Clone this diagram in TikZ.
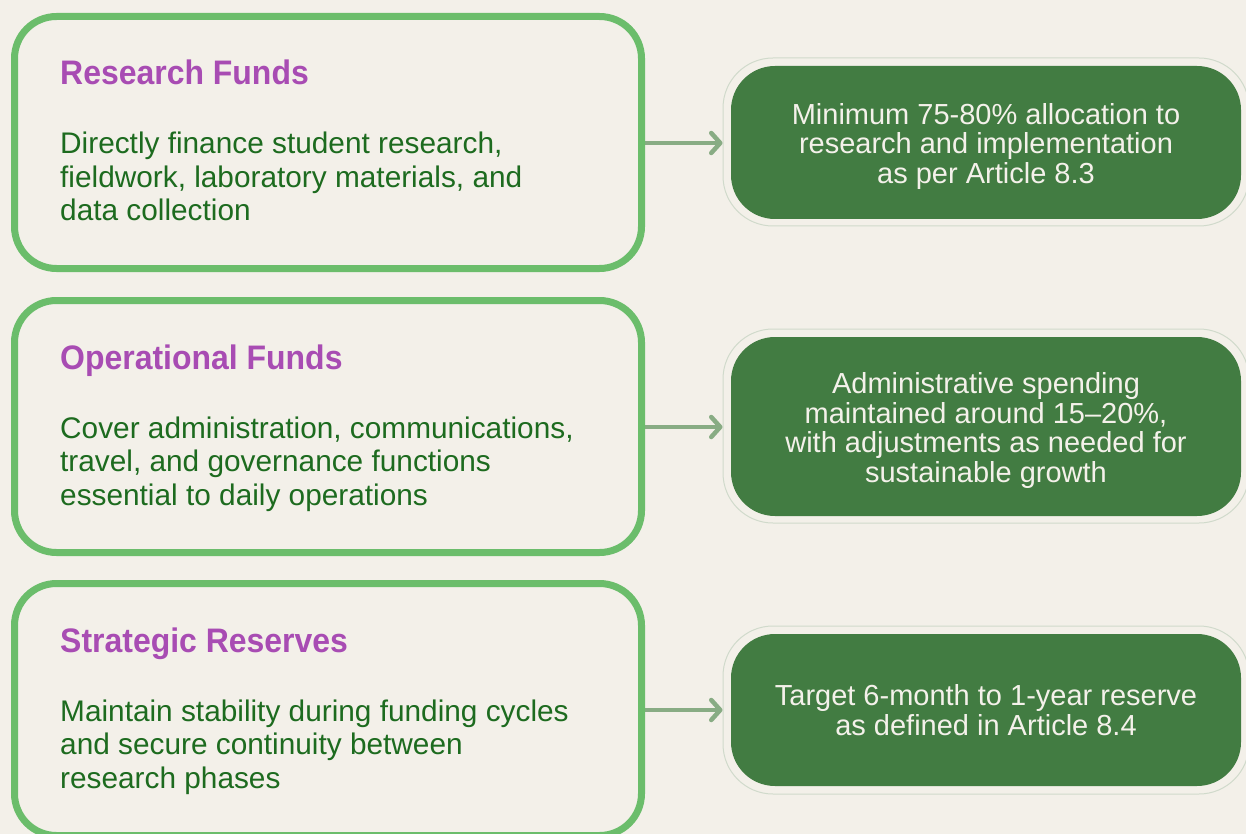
\documentclass[tikz,border=0pt]{standalone}
\usepackage{fontspec}
\setmainfont{Liberation Sans}
\newfontfamily\titlefont[FakeStretch=0.94]{Liberation Sans}
\usetikzlibrary{arrows.meta}
\definecolor{bg}{HTML}{F3F0E9}
\definecolor{boxgreen}{HTML}{6BBD6B}
\definecolor{titlepurple}{HTML}{A84CB3}
\definecolor{bodygreen}{HTML}{1D6B1F}
\definecolor{darkfill}{HTML}{427C42}
\definecolor{lighttext}{HTML}{F4F1EA}
\definecolor{halo}{HTML}{D0DACB}
\definecolor{arrowgreen}{HTML}{88AC84}
\begin{document}
\begin{tikzpicture}[x=1pt,y=-1pt,
  leftbox/.style={draw=boxgreen, line width=7pt, rounded corners=42pt, minimum width=627pt, minimum height=252pt, inner sep=0pt, fill=bg},
  titletext/.style={anchor=base west, inner sep=0pt, text=titlepurple, font=\titlefont\bfseries\fontsize{34}{38}\selectfont},
  bodytext/.style={anchor=base west, inner sep=0pt, text=bodygreen, align=left, font=\fontsize{29.8}{33.5}\selectfont},
  halobox/.style={draw=halo, line width=1pt, rounded corners=50pt, minimum width=526pt, inner sep=0pt},
  fillbox/.style={fill=darkfill, rounded corners=44pt, minimum width=510pt, inner sep=0pt},
  righttext/.style={inner sep=0pt, text=lighttext, align=center, font=\fontsize{29}{29.5}\selectfont},
  arr/.style={draw=arrowgreen, line width=4.5pt, -{Straight Barb[length=9pt, width=20pt, line cap=round, line join=round]}}
]
\fill[bg] (0,0) rectangle (1246,834);
\useasboundingbox (0,0) rectangle (1246,834);

% right side halos and fills
\node[halobox, minimum height=168pt] (H1) at (986,142) {};
\node[fillbox, minimum height=153pt] (F1) at (986,142.5) {};
\node[righttext] (R1) at ([yshift=-4pt]F1.center) {Minimum 75-80\% allocation to\\research and implementation\\as per Article 8.3};
\node[halobox, minimum height=194pt] (H2) at (986,426) {};
\node[fillbox, minimum height=179pt] (F2) at (986,426.5) {};
\node[righttext] (R2) at ([yshift=-4pt]F2.center) {Administrative spending\\maintained around 15--20\%,\\with adjustments as needed for\\sustainable growth};
\node[halobox, minimum height=168pt] (H3) at (986,710) {};
\node[fillbox, minimum height=152pt] (F3) at (986,710) {};
\node[righttext] (R3) at (F3.center) {Target 6-month to 1-year reserve\\as defined in Article 8.4};

% arrows (drawn before left boxes)
\draw[arr] (640,143) coordinate (S1) -- (S1 -| H1.west);
\draw[arr] (640,427) coordinate (S2) -- (S2 -| H2.west);
\draw[arr] (640,710) coordinate (S3) -- (S3 -| H3.west);

% left boxes
\node[leftbox] (L1) at (328,142.5) {};
\node[leftbox] (L2) at (328,426.5) {};
\node[leftbox] (L3) at (328,709.5) {};

\node[titletext] (T1) at (60,85) {Research Funds};
\node[bodytext] (B1) at (60,221) {Directly finance student research,\\fieldwork, laboratory materials, and\\data collection};
\node[titletext] (T2) at (60,369) {Operational Funds};
\node[bodytext] (B2) at (60,505) {Cover administration, communications,\\travel, and governance functions\\essential to daily operations};
\node[titletext] (T3) at (60,652) {Strategic Reserves};
\node[bodytext] (B3) at (60,788) {Maintain stability during funding cycles\\and secure continuity between\\research phases};
\end{tikzpicture}
\end{document}
